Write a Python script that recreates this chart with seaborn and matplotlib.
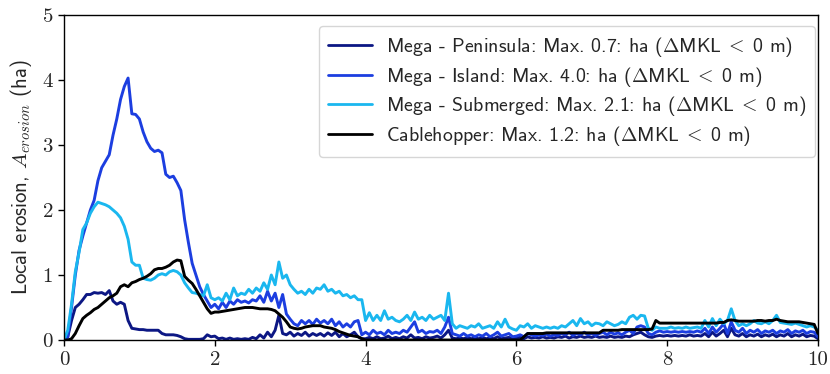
import numpy as np
import pandas as pd
import matplotlib
matplotlib.use("Agg")
import matplotlib.pyplot as plt
import seaborn as sns

# ---------------- data (x step 0.05 from 0 to 10) ----------------
x_vals = np.round(np.arange(0, 201) * 0.05, 2)

peninsula = [
    0, 0.05, 0.3, 0.5, 0.55, 0.62, 0.7, 0.7, 0.73, 0.72, 0.73, 0.7, 0.76, 0.6, 0.55, 0.58, 0.55, 0.3, 0.18, 0.17,
    0.16, 0.16, 0.15, 0.15, 0.15, 0.15, 0.1, 0.08, 0.08, 0.08, 0.07, 0.05, 0.02, 0.01, 0.01, 0.01, 0.01, 0.02, 0.08, 0.05,
    0.06, 0.02, 0.03, 0.01, 0.03, 0.01, 0.02, 0.01, 0.02, 0.01, 0.04, 0.02, 0.08, 0.03, 0.12, 0.05, 0.15, 0.38, 0.1, 0.08,
    0.12, 0.06, 0.1, 0.07, 0.12, 0.06, 0.1, 0.07, 0.1, 0.06, 0.11, 0.07, 0.12, 0.05, 0.1, 0.05, 0.08, 0.12, 0.05, 0.02,
    0.02, 0.04, 0.02, 0.05, 0.02, 0.03, 0.06, 0.02, 0.04, 0.02, 0.05, 0.03, 0.08, 0.03, 0.04, 0.02, 0.05, 0.03, 0.04, 0.06,
    0.03, 0.08, 0.15, 0.03, 0.02, 0.03, 0.02, 0.04, 0.02, 0.03, 0.02, 0.04, 0.02, 0.03, 0.02, 0.05, 0.02, 0.03, 0.04, 0.02,
    0.03, 0.04, 0.02, 0.05, 0.03, 0.04, 0.03, 0.05, 0.03, 0.04, 0.03, 0.05, 0.04, 0.06, 0.03, 0.05, 0.04, 0.06, 0.04, 0.05,
    0.04, 0.06, 0.04, 0.05, 0.04, 0.06, 0.04, 0.05, 0.04, 0.06, 0.05, 0.08, 0.1, 0.12, 0.08, 0.05, 0.04, 0.06, 0.07, 0.06,
    0.07, 0.06, 0.07, 0.06, 0.07, 0.06, 0.08, 0.06, 0.07, 0.06, 0.1, 0.05, 0.12, 0.06, 0.1, 0.15, 0.05, 0.18, 0.08, 0.06,
    0.1, 0.05, 0.08, 0.06, 0.09, 0.05, 0.08, 0.06, 0.09, 0.05, 0.08, 0.06, 0.1, 0.05, 0.08, 0.06, 0.09, 0.05, 0.07, 0.06,
    0.02,
]

island = [
    0, 0.05, 0.5, 1.0, 1.38, 1.6, 1.8, 2.0, 2.15, 2.45, 2.65, 2.75, 2.85, 3.15, 3.4, 3.7, 3.9, 4.03, 3.48, 3.47,
    3.4, 3.2, 3.05, 2.95, 2.9, 2.92, 2.88, 2.55, 2.5, 2.52, 2.42, 2.3, 1.85, 1.5, 1.18, 1.0, 0.82, 0.7, 0.6, 0.5,
    0.55, 0.48, 0.58, 0.5, 0.6, 0.55, 0.62, 0.58, 0.6, 0.57, 0.62, 0.6, 0.68, 0.58, 0.75, 0.6, 0.72, 0.5, 0.7, 0.4,
    0.32, 0.25, 0.22, 0.3, 0.25, 0.3, 0.24, 0.32, 0.26, 0.3, 0.25, 0.32, 0.22, 0.28, 0.2, 0.25, 0.2, 0.28, 0.3, 0.08,
    0.12, 0.08, 0.15, 0.1, 0.12, 0.08, 0.15, 0.1, 0.12, 0.1, 0.15, 0.12, 0.2, 0.28, 0.12, 0.15, 0.1, 0.13, 0.12, 0.15,
    0.1, 0.2, 0.35, 0.1, 0.08, 0.06, 0.1, 0.06, 0.08, 0.05, 0.08, 0.06, 0.1, 0.05, 0.08, 0.12, 0.06, 0.08, 0.1, 0.05,
    0.06, 0.08, 0.05, 0.1, 0.08, 0.06, 0.08, 0.07, 0.09, 0.06, 0.08, 0.07, 0.1, 0.08, 0.12, 0.07, 0.1, 0.08, 0.12, 0.08,
    0.1, 0.07, 0.1, 0.12, 0.08, 0.12, 0.09, 0.11, 0.08, 0.12, 0.15, 0.1, 0.2, 0.22, 0.2, 0.1, 0.08, 0.12, 0.14, 0.12,
    0.13, 0.12, 0.13, 0.12, 0.13, 0.12, 0.13, 0.12, 0.14, 0.12, 0.18, 0.1, 0.2, 0.12, 0.18, 0.25, 0.1, 0.28, 0.15, 0.12,
    0.18, 0.1, 0.15, 0.12, 0.16, 0.1, 0.14, 0.12, 0.15, 0.1, 0.14, 0.12, 0.16, 0.1, 0.14, 0.12, 0.15, 0.1, 0.13, 0.12,
    0.05,
]

submerged = [
    0, 0.15, 0.55, 1.05, 1.35, 1.7, 1.8, 1.95, 2.05, 2.12, 2.1, 2.08, 2.05, 2.0, 1.95, 1.88, 1.75, 1.55, 1.2, 1.15,
    1.15, 0.95, 0.93, 0.92, 0.95, 1.0, 1.02, 1.0, 1.05, 1.07, 1.05, 1.0, 0.88, 0.8, 0.73, 0.72, 0.7, 0.68, 0.85, 0.65,
    0.62, 0.65, 0.6, 0.72, 0.62, 0.8, 0.68, 0.72, 0.7, 0.78, 0.72, 0.8, 0.75, 0.88, 0.78, 1.0, 0.85, 1.2, 0.95, 1.0,
    0.85, 0.78, 0.72, 0.75, 0.7, 0.78, 0.72, 0.8, 0.78, 0.85, 0.75, 0.78, 0.72, 0.75, 0.68, 0.7, 0.65, 0.68, 0.62, 0.62,
    0.3, 0.42, 0.3, 0.38, 0.3, 0.45, 0.32, 0.35, 0.3, 0.28, 0.32, 0.38, 0.3, 0.43, 0.32, 0.35, 0.3, 0.38, 0.32, 0.35,
    0.38, 0.3, 0.72, 0.25, 0.18, 0.22, 0.2, 0.18, 0.22, 0.2, 0.25, 0.18, 0.2, 0.22, 0.18, 0.28, 0.2, 0.32, 0.2, 0.17,
    0.15, 0.22, 0.2, 0.25, 0.18, 0.22, 0.2, 0.18, 0.2, 0.18, 0.2, 0.18, 0.22, 0.2, 0.25, 0.3, 0.22, 0.33, 0.25, 0.28,
    0.22, 0.26, 0.25, 0.22, 0.28, 0.25, 0.22, 0.24, 0.28, 0.25, 0.35, 0.38, 0.32, 0.38, 0.37, 0.18, 0.15, 0.2, 0.18, 0.18,
    0.18, 0.2, 0.18, 0.19, 0.18, 0.2, 0.18, 0.19, 0.2, 0.18, 0.3, 0.2, 0.33, 0.22, 0.32, 0.25, 0.3, 0.48, 0.3, 0.22,
    0.25, 0.22, 0.25, 0.3, 0.26, 0.25, 0.28, 0.25, 0.3, 0.38, 0.27, 0.26, 0.25, 0.24, 0.26, 0.24, 0.22, 0.2, 0.22, 0.2,
    0.15,
]

cablehopper = [
    0, 0, 0.02, 0.1, 0.22, 0.33, 0.38, 0.42, 0.47, 0.5, 0.55, 0.6, 0.65, 0.68, 0.72, 0.82, 0.85, 0.82, 0.88, 0.9,
    0.93, 0.95, 0.98, 1.02, 1.08, 1.1, 1.1, 1.12, 1.15, 1.2, 1.23, 1.22, 0.98, 0.92, 0.87, 0.78, 0.68, 0.58, 0.48, 0.41,
    0.43, 0.43, 0.44, 0.45, 0.46, 0.47, 0.48, 0.49, 0.5, 0.5, 0.5, 0.49, 0.48, 0.48, 0.48, 0.47, 0.45, 0.4, 0.35, 0.28,
    0.2, 0.18, 0.17, 0.18, 0.2, 0.21, 0.22, 0.22, 0.22, 0.2, 0.19, 0.18, 0.16, 0.13, 0.11, 0.09, 0.07, 0.06, 0.05, 0.02,
    0, 0, 0, 0, 0, 0, 0, 0, 0, 0, 0, 0, 0, 0, 0, 0, 0, 0, 0, 0,
    0, 0, 0, 0, 0, 0, 0, 0, 0, 0, 0, 0, 0, 0, 0, 0, 0, 0, 0, 0,
    0, 0, 0.05, 0.1, 0.1, 0.1, 0.1, 0.1, 0.11, 0.11, 0.11, 0.11, 0.11, 0.11, 0.11, 0.11, 0.11, 0.11, 0.11, 0.11,
    0.11, 0.11, 0.11, 0.15, 0.15, 0.15, 0.15, 0.15, 0.16, 0.16, 0.16, 0.16, 0.16, 0.16, 0.16, 0.16, 0.17, 0.3, 0.26, 0.26,
    0.26, 0.26, 0.26, 0.26, 0.26, 0.26, 0.26, 0.26, 0.26, 0.26, 0.26, 0.26, 0.26, 0.26, 0.27, 0.27, 0.3, 0.31, 0.3, 0.29,
    0.29, 0.29, 0.29, 0.29, 0.3, 0.3, 0.29, 0.3, 0.3, 0.32, 0.3, 0.29, 0.28, 0.28, 0.28, 0.28, 0.27, 0.26, 0.25, 0.24,
    0.1,
]

labels = [
    r"Mega - Peninsula: Max. 0.7: ha ($\Delta$MKL$\;<\;$0 m)",
    r"Mega - Island: Max. 4.0: ha ($\Delta$MKL$\;<\;$0 m)",
    r"Mega - Submerged: Max. 2.1: ha ($\Delta$MKL$\;<\;$0 m)",
    r"Cablehopper: Max. 1.2: ha ($\Delta$MKL$\;<\;$0 m)",
]
colors = ["#0c1784", "#1c3ee0", "#1ab7ef", "#000000"]
x_ticks = [0, 2, 4, 6, 8, 10]
y_ticks = [0, 1, 2, 3, 4, 5]

# ---------------- styling ----------------
sns.set_style("ticks")
plt.rcParams["font.family"] = ["cmss10", "DejaVu Sans"]
plt.rcParams["mathtext.fontset"] = "cm"
plt.rcParams["axes.formatter.use_mathtext"] = True
plt.rcParams["axes.unicode_minus"] = False

df = pd.concat(
    [pd.DataFrame({"x": x_vals, "y": vals, "series": lab})
     for lab, vals in zip(labels, [peninsula, island, submerged, cablehopper])],
    ignore_index=True,
)

fig = plt.figure(figsize=(8.3, 3.74), dpi=100)
ax = fig.add_axes([0.0771, 0.0909, 0.9084, 0.869])

sns.lineplot(data=df, x="x", y="y", hue="series", hue_order=labels,
             palette=colors, estimator=None, sort=False, linewidth=2.1, ax=ax)

ax.set_xlim(0, 10)
ax.set_ylim(0, 5)
ax.set_xticks(x_ticks)
ax.set_yticks(y_ticks)
ax.set_xticklabels([str(v) for v in x_ticks], fontfamily="cmr10", fontsize=15)
ax.set_yticklabels([str(v) for v in y_ticks], fontfamily="cmr10", fontsize=15)
ax.tick_params(direction="out", length=4, width=1, color="black", pad=4)
ax.set_xlabel("")
ax.set_ylabel(r"Local erosion, $A_{erosion}$ (ha)", fontsize=15, labelpad=6)
for s in ax.spines.values():
    s.set_visible(True)
    s.set_color("black")
    s.set_linewidth(1.0)

leg = ax.legend(loc="upper right", bbox_to_anchor=(1.0, 0.975),
                fontsize=14.3, frameon=True, fancybox=True,
                handlelength=2.2, handletextpad=0.7, borderpad=0.45,
                labelspacing=0.28, borderaxespad=0.15)
leg.get_frame().set_edgecolor("#cccccc")
leg.get_frame().set_linewidth(1.0)
for line in leg.get_lines():
    line.set_linewidth(2.0)

fig.savefig("out.png", dpi=100)
